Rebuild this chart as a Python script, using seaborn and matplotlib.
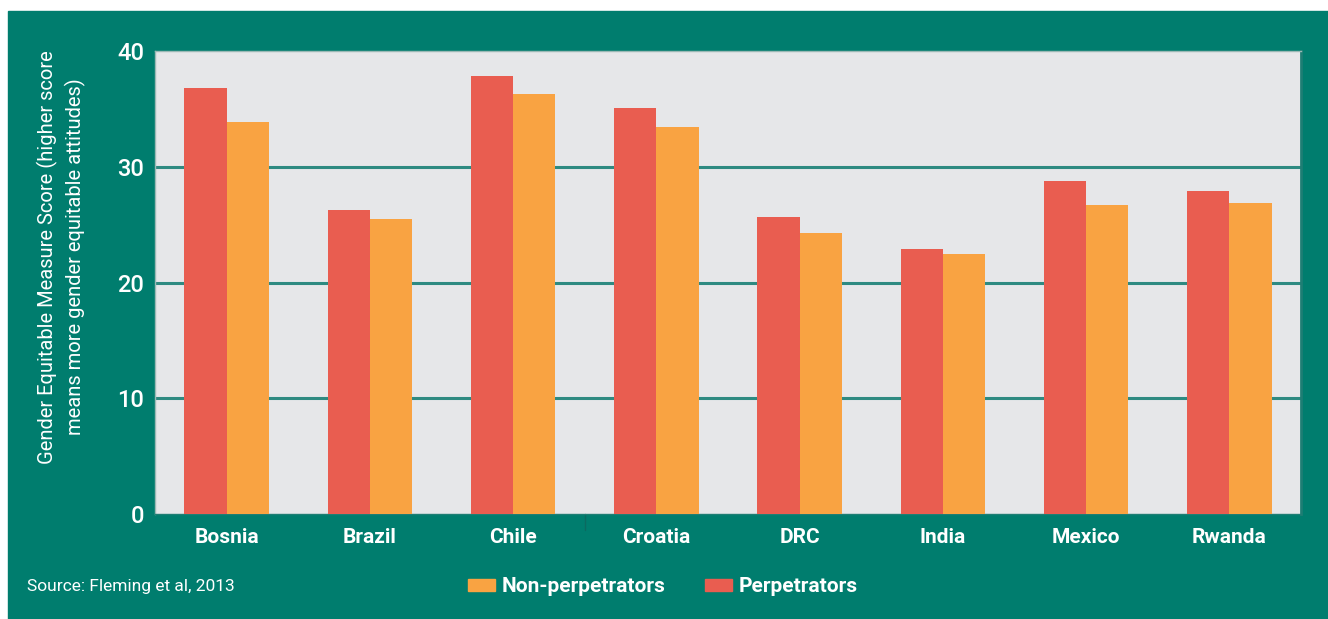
import numpy as np
import pandas as pd
import matplotlib
matplotlib.use('Agg')
import matplotlib.pyplot as plt
import matplotlib.patches as mpatches
import seaborn as sns

# datos (Fleming et al, 2013)
paises = ['Bosnia', 'Brazil', 'Chile', 'Croatia', 'DRC', 'India', 'Mexico', 'Rwanda']
perpetradores = [36.8, 26.3, 37.8, 35.1, 25.7, 22.9, 28.8, 27.9]
no_perpetradores = [33.9, 25.5, 36.3, 33.4, 24.3, 22.5, 26.7, 26.9]
y_ticks = [0, 10, 20, 30, 40]

TEAL = '#007D6E'
FONDO = '#E6E7E9'
ROJO = '#E95D50'
NARANJA = '#F9A342'

df = pd.DataFrame({
    'pais': paises * 2,
    'score': perpetradores + no_perpetradores,
    'grupo': ['Perpetrators'] * len(paises) + ['Non-perpetrators'] * len(paises),
})

sns.set_style('white')
plt.rcParams['font.family'] = ['Liberation Sans Narrow', 'Roboto', 'DejaVu Sans']

fig = plt.figure(figsize=(13.28, 6.19), dpi=100)
fig.patch.set_facecolor('white')
fig.patches.append(mpatches.Rectangle((8 / 1328, 0), 1, 1 - 11 / 619,
                                      transform=fig.transFigure, color=TEAL, zorder=-5))

ax = fig.add_axes([155 / 1328, 105 / 619, 1146 / 1328, 463 / 619])
ax.set_facecolor(FONDO)

sns.barplot(data=df, x='pais', y='score', hue='grupo',
            hue_order=['Perpetrators', 'Non-perpetrators'],
            palette=[ROJO, NARANJA], width=0.59, saturation=1,
            linewidth=0, ax=ax, legend=False, zorder=3)

ax.set_ylim(0, 40)
ax.set_xlim(-0.5, len(paises) - 0.5)
ax.set_yticks(y_ticks)
for v in y_ticks[1:-1]:
    ax.axhline(v, color='#2E8A81', lw=2.2, zorder=2)
# pequeña marca bajo el eje entre Chile y Croatia
ax.plot([2.5, 2.5], [0, -1.4], color='#0B6A60', lw=1, clip_on=False)

ax.tick_params(axis='both', length=0, colors='white')
ax.tick_params(axis='y', labelsize=17, pad=8)
ax.tick_params(axis='x', labelsize=15, pad=10)
for lbl in ax.get_xticklabels():
    lbl.set_fontweight('bold')
for lbl in ax.get_yticklabels():
    lbl.set_fontweight('medium')
ax.set_xlabel('')
ax.set_ylabel('Gender Equitable Measure Score (higher score\nmeans more gender equitable attitudes)',
              color='white', fontsize=14.5, linespacing=1.45)
ax.yaxis.set_label_coords(-0.06, 0.555)

for lado in ['left', 'top', 'bottom']:
    ax.spines[lado].set_color('#9BB9B5')
    ax.spines[lado].set_linewidth(1)
ax.spines['bottom'].set_color('#1E7E74')
ax.spines['right'].set_color('#1E7E74')
ax.spines['right'].set_linewidth(2)

# leyenda abajo
handles = [mpatches.Patch(color=NARANJA, label='Non-perpetrators'),
           mpatches.Patch(color=ROJO, label='Perpetrators')]
leg = fig.legend(handles=handles, loc='center left', bbox_to_anchor=(468 / 1328, 1 - 587 / 619),
                 ncol=2, frameon=False, fontsize=15, handlelength=1.3, handleheight=0.55,
                 columnspacing=1.9, handletextpad=0.3, borderpad=0, borderaxespad=0)
for t in leg.get_texts():
    t.set_color('white')
    t.set_fontweight('bold')

fig.text(27 / 1328, 1 - 587 / 619, 'Source: Fleming et al, 2013', color='white',
         fontsize=12.5, va='center', ha='left')

plt.savefig('out.png', dpi=100, facecolor=fig.get_facecolor())
